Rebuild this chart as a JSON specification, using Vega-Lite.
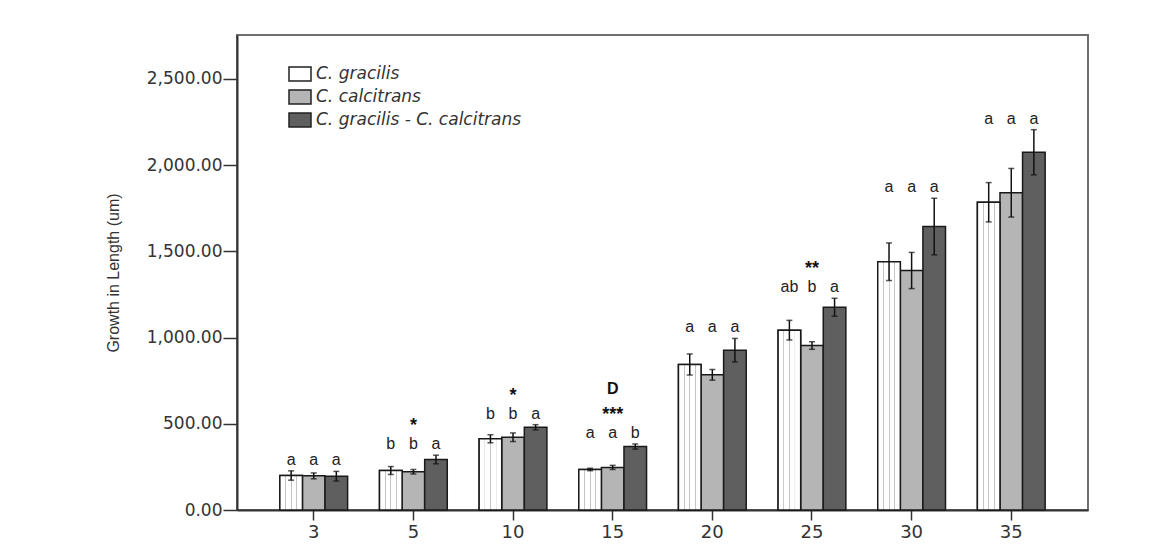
{
  "$schema": "https://vega.github.io/schema/vega-lite/v6.json",
  "width": 851,
  "height": 475,
  "autosize": {"type": "none"},
  "padding": {"left": 237, "top": 35, "right": 87, "bottom": 38},
  "background": "white",
  "config": {
    "view": {"stroke": "#6e6e6e", "strokeWidth": 2},
    "axis": {"grid": false, "domainColor": "#333", "domainWidth": 2, "tickColor": "#333", "tickWidth": 1.5, "labelColor": "#333", "labelFont": "DejaVu Sans"}
  },
  "data": {
    "values": [
      {"day": 3, "series": "C. gracilis", "mean": 200, "err": 27, "letter": "a"},
      {"day": 3, "series": "C. calcitrans", "mean": 198, "err": 17, "letter": "a"},
      {"day": 3, "series": "C. gracilis - C. calcitrans", "mean": 196, "err": 28, "letter": "a"},
      {"day": 5, "series": "C. gracilis", "mean": 229, "err": 23, "letter": "b"},
      {"day": 5, "series": "C. calcitrans", "mean": 222, "err": 13, "letter": "b", "star": "*"},
      {"day": 5, "series": "C. gracilis - C. calcitrans", "mean": 293, "err": 25, "letter": "a"},
      {"day": 10, "series": "C. gracilis", "mean": 413, "err": 23, "letter": "b"},
      {"day": 10, "series": "C. calcitrans", "mean": 422, "err": 25, "letter": "b", "star": "*"},
      {"day": 10, "series": "C. gracilis - C. calcitrans", "mean": 480, "err": 15, "letter": "a"},
      {"day": 15, "series": "C. gracilis", "mean": 235, "err": 7, "letter": "a"},
      {"day": 15, "series": "C. calcitrans", "mean": 247, "err": 12, "letter": "a", "star": "***", "note": "D"},
      {"day": 15, "series": "C. gracilis - C. calcitrans", "mean": 368, "err": 15, "letter": "b"},
      {"day": 20, "series": "C. gracilis", "mean": 844, "err": 61, "letter": "a"},
      {"day": 20, "series": "C. calcitrans", "mean": 784, "err": 31, "letter": "a"},
      {"day": 20, "series": "C. gracilis - C. calcitrans", "mean": 927, "err": 68, "letter": "a"},
      {"day": 25, "series": "C. gracilis", "mean": 1043, "err": 57, "letter": "ab"},
      {"day": 25, "series": "C. calcitrans", "mean": 954, "err": 22, "letter": "b", "star": "**"},
      {"day": 25, "series": "C. gracilis - C. calcitrans", "mean": 1176, "err": 52, "letter": "a"},
      {"day": 30, "series": "C. gracilis", "mean": 1440, "err": 109, "letter": "a"},
      {"day": 30, "series": "C. calcitrans", "mean": 1389, "err": 105, "letter": "a"},
      {"day": 30, "series": "C. gracilis - C. calcitrans", "mean": 1644, "err": 164, "letter": "a"},
      {"day": 35, "series": "C. gracilis", "mean": 1785, "err": 114, "letter": "a"},
      {"day": 35, "series": "C. calcitrans", "mean": 1840, "err": 141, "letter": "a"},
      {"day": 35, "series": "C. gracilis - C. calcitrans", "mean": 2075, "err": 131, "letter": "a"}
    ]
  },
  "transform": [
    {"calculate": "datum.mean - datum.err", "as": "lo"},
    {"calculate": "datum.mean + datum.err", "as": "hi"},
    {"joinaggregate": [{"op": "max", "field": "hi", "as": "top"}], "groupby": ["day"]}
  ],
  "encoding": {
    "x": {
      "field": "day", "type": "ordinal", "sort": "ascending",
      "scale": {"paddingInner": 0.32, "paddingOuter": 0.43},
      "axis": {"title": null, "labelAngle": 0, "labelFontSize": 18, "tickSize": 10, "labelPadding": 3}
    },
    "xOffset": {
      "field": "series", "type": "nominal",
      "sort": ["C. gracilis", "C. calcitrans", "C. gracilis - C. calcitrans"],
      "scale": {"paddingInner": 0, "paddingOuter": 0}
    }
  },
  "layer": [
    {
      "mark": {"type": "bar", "stroke": "#1a1a1a", "strokeWidth": 1.5},
      "encoding": {
        "y": {
          "field": "mean", "type": "quantitative",
          "scale": {"domain": [0, 2755], "nice": false, "zero": true},
          "axis": {
            "title": "Growth in Length (um)", "titleFont": "Liberation Sans", "titleFontSize": 16, "titleFontWeight": "normal", "titleColor": "#333", "titlePadding": 25,
            "values": [0, 500, 1000, 1500, 2000, 2500], "format": ",.2f",
            "labelFontSize": 17, "tickSize": 14, "labelPadding": 1
          }
        },
        "fill": {
          "field": "series", "type": "nominal",
          "sort": ["C. gracilis", "C. calcitrans", "C. gracilis - C. calcitrans"],
          "scale": {"domain": ["C. gracilis", "C. calcitrans", "C. gracilis - C. calcitrans"], "range": ["#ffffff", "#b5b5b5", "#5f5f5f"]},
          "legend": {
            "title": null, "orient": "none", "legendX": 51, "legendY": 27, "padding": 0,
            "symbolType": "M-1,-0.64H1V0.64H-1Z", "symbolSize": 484, "symbolStrokeColor": "#222", "symbolStrokeWidth": 1.5,
            "labelFont": "DejaVu Sans", "labelFontSize": 17, "labelFontStyle": "italic", "labelColor": "#333", "labelOffset": 4, "rowPadding": 0, "labelLimit": 400
          }
        }
      }
    },
    {
      "transform": [{"filter": "datum.series === 'C. gracilis'"}],
      "mark": {
        "type": "bar", "stroke": "#1a1a1a", "strokeWidth": 1.5,
        "fill": {"gradient": "linear", "x1": 0, "y1": 0, "x2": 1, "y2": 0, "stops": [
          {"offset": 0, "color": "#ffffff"}, {"offset": 0.235, "color": "#ffffff"},
          {"offset": 0.24, "color": "#c4c4c4"}, {"offset": 0.275, "color": "#c4c4c4"}, {"offset": 0.28, "color": "#ffffff"},
          {"offset": 0.48, "color": "#ffffff"}, {"offset": 0.485, "color": "#c4c4c4"}, {"offset": 0.52, "color": "#c4c4c4"}, {"offset": 0.525, "color": "#ffffff"},
          {"offset": 0.725, "color": "#ffffff"}, {"offset": 0.73, "color": "#c4c4c4"}, {"offset": 0.765, "color": "#c4c4c4"}, {"offset": 0.77, "color": "#ffffff"},
          {"offset": 1, "color": "#ffffff"}
        ]}
      },
      "encoding": {"y": {"field": "mean", "type": "quantitative"}}
    },
    {
      "mark": {"type": "rule", "color": "#111", "strokeWidth": 1.5},
      "encoding": {"y": {"field": "lo", "type": "quantitative"}, "y2": {"field": "hi"}}
    },
    {
      "mark": {"type": "tick", "color": "#111", "thickness": 1.5, "size": 6},
      "encoding": {"y": {"field": "lo", "type": "quantitative"}}
    },
    {
      "mark": {"type": "tick", "color": "#111", "thickness": 1.5, "size": 6},
      "encoding": {"y": {"field": "hi", "type": "quantitative"}}
    },
    {
      "mark": {"type": "text", "font": "Liberation Sans", "fontSize": 16, "color": "#222", "baseline": "alphabetic", "align": "center", "dy": -6},
      "encoding": {"y": {"field": "top", "type": "quantitative"}, "text": {"field": "letter"}}
    },
    {
      "transform": [{"filter": "datum.star != null"}],
      "mark": {"type": "text", "font": "Liberation Sans", "fontSize": 18, "fontWeight": "bold", "color": "#111", "baseline": "alphabetic", "align": "center", "dy": -24},
      "encoding": {"y": {"field": "top", "type": "quantitative"}, "text": {"field": "star"}}
    },
    {
      "transform": [{"filter": "datum.note != null"}],
      "mark": {"type": "text", "font": "Liberation Sans", "fontSize": 16, "fontWeight": "bold", "color": "#111", "baseline": "alphabetic", "align": "center", "dy": -50},
      "encoding": {"y": {"field": "top", "type": "quantitative"}, "text": {"field": "note"}}
    }
  ]
}
